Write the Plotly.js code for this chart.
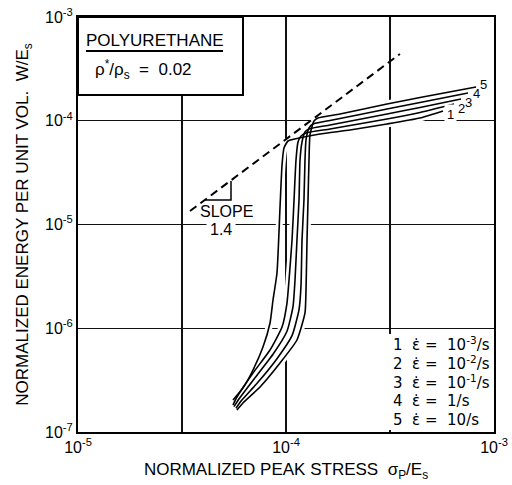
<!DOCTYPE html>
<html><head><meta charset="utf-8">
<script src="https://cdn.plot.ly/plotly-3.0.1.min.js"></script>
<style>html,body{margin:0;padding:0;background:#fff;}#chart{width:512px;height:485px;}</style>
</head><body><div id="chart"></div>
<script>
// ---- data (normalized peak stress, normalized energy) ----
const curveIds = ['1', '2', '3', '4', '5'];
const rateLabels = [
  '1  ε̇ =  10<sup>-3</sup>/s',
  '2  ε̇ =  10<sup>-2</sup>/s',
  '3  ε̇ =  10<sup>-1</sup>/s',
  '4  ε̇ =  1/s',
  '5  ε̇ =  10/s'
];
const c1Stress = [5.56e-5, 6.21e-5, 6.94e-5, 7.75e-5, 8.38e-5, 8.66e-5, 9.05e-5, 9.36e-5, 9.57e-5, 9.78e-5, 1.022e-4, 1.129e-4, 1.457e-4, 2.031e-4, 3.059e-4, 4.408e-4, 5.686e-4];
const c1Energy = [2.035e-7, 2.655e-7, 3.959e-7, 6.596e-7, 1.124e-6, 1.872e-6, 3.407e-6, 1.475e-5, 3.746e-5, 5.462e-5, 6.380e-5, 6.744e-5, 7.453e-5, 8.146e-5, 9.304e-5, 1.063e-4, 1.242e-4];
const c2Stress = [5.56e-5, 5.81e-5, 6.94e-5, 8.38e-5, 9.57e-5, 1.011e-4, 1.034e-4, 1.069e-4, 1.093e-4, 1.117e-4, 1.142e-4, 1.181e-4, 1.248e-4, 1.628e-4, 3.059e-4, 4.408e-4, 6.425e-4];
const c2Energy = [1.821e-7, 2.175e-7, 3.704e-7, 6.173e-7, 1.028e-6, 1.751e-6, 2.918e-6, 7.088e-6, 1.722e-5, 4.183e-5, 6.240e-5, 7.129e-5, 7.621e-5, 8.328e-5, 1.040e-4, 1.201e-4, 1.450e-4];
const c3Stress = [5.62e-5, 5.94e-5, 7.10e-5, 8.66e-5, 1.011e-4, 1.081e-4, 1.105e-4, 1.129e-4, 1.155e-4, 1.168e-4, 1.194e-4, 1.234e-4, 1.290e-4, 1.628e-4, 3.059e-4, 4.408e-4, 6.94e-4];
const c3Energy = [1.754e-7, 2.080e-7, 3.338e-7, 5.610e-7, 9.346e-7, 1.627e-6, 2.918e-6, 7.088e-6, 1.722e-5, 4.183e-5, 6.240e-5, 7.793e-5, 8.328e-5, 9.100e-5, 1.162e-4, 1.342e-4, 1.620e-4];
const c4Stress = [5.75e-5, 6.08e-5, 7.33e-5, 9.05e-5, 1.069e-4, 1.155e-4, 1.181e-4, 1.194e-4, 1.220e-4, 1.234e-4, 1.248e-4, 1.290e-4, 1.348e-4, 1.628e-4, 3.059e-4, 4.408e-4, 7.499e-4];
const c4Energy = [1.692e-7, 1.990e-7, 3.013e-7, 5.088e-7, 8.478e-7, 1.509e-6, 2.611e-6, 7.088e-6, 1.722e-5, 4.183e-5, 6.524e-5, 8.514e-5, 9.304e-5, 1.006e-4, 1.298e-4, 1.499e-4, 1.851e-4];
const c5Stress = [5.81e-5, 6.21e-5, 7.50e-5, 9.36e-5, 1.129e-4, 1.234e-4, 1.248e-4, 1.262e-4, 1.276e-4, 1.290e-4, 1.304e-4, 1.363e-4, 1.425e-4, 1.818e-4, 3.059e-4, 4.408e-4, 8.194e-4];
const c5Energy = [1.630e-7, 1.904e-7, 2.715e-7, 4.624e-7, 7.703e-7, 1.403e-6, 2.337e-6, 7.088e-6, 1.722e-5, 4.183e-5, 7.290e-5, 9.945e-5, 1.063e-4, 1.162e-4, 1.450e-4, 1.675e-4, 2.115e-4];
const slopeStress = [3.455e-5, 3.53e-4];
const slopeEnergy = [1.349e-5, 4.40e-4];
const triStress = [4.08e-5, 5.44e-5, 5.44e-5];
const triEnergy = [1.722e-5, 1.722e-5, 2.626e-5];
const xTickVals = [1e-5, 3.162e-5, 1e-4, 3.162e-4, 1e-3];
const xTickText = ['10<sup>-5</sup>', '', '10<sup>-4</sup>', '', '10<sup>-3</sup>'];
const yTickVals = [1e-7, 1e-6, 1e-5, 1e-4, 1e-3];
const yTickText = ['10<sup>-7</sup>', '10<sup>-6</sup>', '10<sup>-5</sup>', '10<sup>-4</sup>', '10<sup>-3</sup>'];

// ---- drawing ----
const FONT = 'Liberation Sans, Arial, DejaVu Sans, sans-serif';
const FONT_GREEK = 'DejaVu Sans, sans-serif';
const curvesX = [c1Stress, c2Stress, c3Stress, c4Stress, c5Stress];
const curvesY = [c1Energy, c2Energy, c3Energy, c4Energy, c5Energy];
const traces = [];
curvesX.forEach((xs, i) => traces.push({x: xs, y: curvesY[i], mode: 'lines', type: 'scatter',
  line: {color: '#ffffff', width: 7, shape: 'spline', smoothing: 0.5}, hoverinfo: 'skip', showlegend: false}));
traces.push({x: slopeStress, y: slopeEnergy, mode: 'lines', type: 'scatter',
  line: {color: '#000', width: 2, dash: '8px,5px'}, showlegend: false});
traces.push({x: triStress, y: triEnergy, mode: 'lines', type: 'scatter',
  line: {color: '#000', width: 1.5}, showlegend: false});
curvesX.forEach((xs, i) => traces.push({x: xs, y: curvesY[i], mode: 'lines', type: 'scatter', name: curveIds[i],
  line: {color: '#000', width: 1.6, shape: 'spline', smoothing: 0.5}, showlegend: false}));

const L = 78, T = 17, W = 416, H = 415;
const px = v => (v - L) / W;
const py = v => (T + H - v) / H;
const ann = (x, y, text, size, extra) => Object.assign({xref: 'paper', yref: 'paper', x: px(x), y: py(y),
  xanchor: 'center', yanchor: 'middle',
  text: text, showarrow: false, font: {family: FONT, size: size, color: '#000'}}, extra || {});

const annotations = [
  ann(155, 40, 'POLYURETHANE', 17),
  ann(143, 69, 'ρ<sup>*</sup>/ρ<sub>s</sub>  =  0.02', 17),
  ann(226, 212, 'SLOPE', 16),
  ann(221, 229, '1.4', 16, {bgcolor: '#fff', borderpad: 3}),
  ann(483, 85, curveIds[4], 13),
  ann(476, 94, curveIds[3], 13),
  ann(468, 102, curveIds[2], 13),
  ann(461, 108, curveIds[1], 13),
  ann(450, 115, curveIds[0], 13, {bgcolor: '#fff', borderpad: 2})
];
const legendY = [344, 363, 382, 401, 420];
rateLabels.forEach((t, i) => annotations.push(ann(391, legendY[i], t, 15,
  {xanchor: 'left', font: {family: FONT_GREEK, size: 15, color: '#000'}})));

const shapes = [
  {type: 'rect', xref: 'paper', yref: 'paper', x0: px(386), x1: px(490), y0: py(430), y1: py(334),
   fillcolor: '#fff', line: {width: 0}, layer: 'above'},
  {type: 'rect', xref: 'paper', yref: 'paper', x0: 0, x1: px(243), y0: py(95), y1: 1,
   fillcolor: '#fff', line: {color: '#000', width: 2}, layer: 'above'},
  {type: 'line', xref: 'paper', yref: 'paper', x0: px(86), x1: px(223), y0: py(51), y1: py(51),
   line: {color: '#000', width: 2}, layer: 'above'}
];

const axisCommon = {type: 'log', showgrid: true, gridcolor: '#111', gridwidth: 1.4, showline: true, mirror: true,
  linecolor: '#000', linewidth: 2, ticks: '', zeroline: false, tickfont: {family: FONT, size: 16, color: '#000'}};

const layout = {
  width: 512, height: 485,
  margin: {l: L, r: 512 - L - W, t: T, b: 485 - T - H},
  paper_bgcolor: '#fff', plot_bgcolor: '#fff',
  showlegend: false,
  xaxis: Object.assign({}, axisCommon, {range: [-5, -3], tickmode: 'array', tickvals: xTickVals, ticktext: xTickText,
    title: {text: 'NORMALIZED PEAK STRESS  σ<sub>P</sub>/E<sub>s</sub>', font: {family: FONT, size: 17, color: '#000'}, standoff: 8}}),
  yaxis: Object.assign({}, axisCommon, {range: [-7, -3], tickmode: 'array', tickvals: yTickVals, ticktext: yTickText,
    title: {text: 'NORMALIZED ENERGY PER UNIT VOL.  W/E<sub>s</sub>', font: {family: FONT, size: 17, color: '#000'}, standoff: 12}}),
  annotations: annotations,
  shapes: shapes
};
Plotly.newPlot('chart', traces, layout, {staticPlot: true, displayModeBar: false});
</script></body></html>
